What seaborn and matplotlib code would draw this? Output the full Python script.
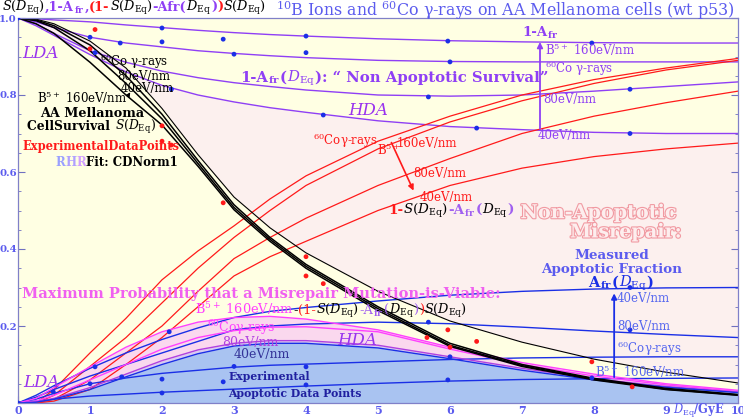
import matplotlib
matplotlib.use('Agg')
import matplotlib.pyplot as plt
import matplotlib.transforms as mtransforms
import matplotlib.patheffects as pe
from matplotlib.ticker import MultipleLocator
import seaborn as sns

sns.set_theme(style='ticks')
plt.rcParams['font.family'] = ['DejaVu Serif']
plt.rcParams['mathtext.fontset'] = 'dejavuserif'

# ---- data ----
xg = [0, 0.25, 0.5, 1, 1.5, 2, 2.5, 3, 3.5, 4, 5, 6, 7, 8, 9, 10]

# cell survival S(D_Eq)
s_co   = [1, 0.997, 0.985, 0.94, 0.87, 0.765, 0.645, 0.535, 0.455, 0.39, 0.29, 0.213, 0.158, 0.114, 0.08, 0.052]
s_80   = [1, 0.995, 0.98, 0.93, 0.85, 0.75, 0.63, 0.515, 0.43, 0.36, 0.25, 0.155, 0.1, 0.064, 0.038, 0.022]
s_40   = [1, 0.993, 0.975, 0.915, 0.83, 0.738, 0.622, 0.508, 0.425, 0.355, 0.245, 0.15, 0.097, 0.062, 0.036, 0.021]
s_b160 = [1, 0.985, 0.96, 0.885, 0.80, 0.722, 0.615, 0.502, 0.42, 0.35, 0.24, 0.147, 0.095, 0.06, 0.035, 0.02]

# 1 - Afr(D_Eq)
a_b160 = [1, 0.998, 0.995, 0.99, 0.982, 0.975, 0.968, 0.962, 0.957, 0.953, 0.946, 0.941, 0.938, 0.936, 0.935, 0.935]
a_co   = [1, 0.99, 0.975, 0.95, 0.935, 0.925, 0.915, 0.908, 0.902, 0.897, 0.89, 0.887, 0.886, 0.886, 0.886, 0.886]
a_80   = [1, 0.985, 0.96, 0.915, 0.885, 0.862, 0.845, 0.832, 0.822, 0.813, 0.80, 0.797, 0.80, 0.81, 0.822, 0.834]
a_40   = [1, 0.98, 0.955, 0.905, 0.86, 0.825, 0.80, 0.782, 0.767, 0.755, 0.733, 0.718, 0.71, 0.703, 0.70, 0.70]

# 1 - S - Afr
r_b160 = [0, 0, 0.035, 0.13, 0.22, 0.32, 0.395, 0.46, 0.53, 0.59, 0.68, 0.745, 0.80, 0.84, 0.87, 0.895]
r_co   = [0, 0, 0.02, 0.095, 0.17, 0.26, 0.35, 0.43, 0.50, 0.565, 0.66, 0.73, 0.785, 0.83, 0.865, 0.89]
r_80   = [0, 0, 0.01, 0.06, 0.13, 0.20, 0.29, 0.375, 0.43, 0.48, 0.565, 0.635, 0.70, 0.745, 0.78, 0.81]
r_40   = [0, 0, 0.005, 0.035, 0.10, 0.17, 0.25, 0.33, 0.38, 0.42, 0.50, 0.565, 0.61, 0.64, 0.66, 0.675]

# Afr(D_Eq)
f_40   = [0, 0.02, 0.045, 0.09, 0.13, 0.165, 0.195, 0.222, 0.238, 0.248, 0.265, 0.28, 0.29, 0.296, 0.299, 0.30]
f_80   = [0, 0.015, 0.035, 0.07, 0.10, 0.13, 0.16, 0.19, 0.20, 0.205, 0.21, 0.206, 0.197, 0.187, 0.178, 0.17]
f_co   = [0, 0.01, 0.025, 0.05, 0.065, 0.077, 0.085, 0.093, 0.098, 0.101, 0.107, 0.113, 0.117, 0.119, 0.12, 0.12]
f_b160 = [0, 0.005, 0.01, 0.018, 0.023, 0.028, 0.032, 0.036, 0.04, 0.044, 0.051, 0.057, 0.061, 0.063, 0.064, 0.065]

# (1 - S - Afr) S
m_b160 = [0, 0.012, 0.04, 0.094, 0.145, 0.185, 0.21, 0.222, 0.225, 0.218, 0.19, 0.145, 0.105, 0.075, 0.05, 0.033]
m_co   = [0, 0.005, 0.02, 0.06, 0.10, 0.14, 0.17, 0.188, 0.197, 0.198, 0.185, 0.14, 0.10, 0.07, 0.047, 0.03]
m_80   = [0, 0.003, 0.012, 0.04, 0.075, 0.11, 0.138, 0.155, 0.162, 0.162, 0.15, 0.12, 0.09, 0.063, 0.043, 0.028]
m_40   = [0, 0.002, 0.01, 0.035, 0.068, 0.10, 0.128, 0.148, 0.155, 0.155, 0.143, 0.115, 0.085, 0.06, 0.041, 0.027]

# experimental points
surv_x = [1.0, 1.07, 2.0, 2.0, 2.13, 2.85, 4.0, 4.0, 4.24, 5.68, 5.97, 6.0, 6.37, 7.97, 8.53]
surv_y = [0.92, 0.97, 0.72, 0.68, 0.67, 0.52, 0.38, 0.33, 0.31, 0.17, 0.19, 0.145, 0.16, 0.107, 0.042]
naps_x = [0, 1.0, 1.07, 1.42, 2.0, 2.0, 2.13, 2.85, 3.0, 4.0, 4.0, 4.24, 5.7, 5.97, 6.0, 6.37, 7.97, 8.5, 8.5]
naps_y = [1, 0.95, 0.91, 0.935, 0.974, 0.938, 0.815, 0.945, 0.906, 0.953, 0.91, 0.748, 0.795, 0.94, 0.886, 0.714, 0.935, 0.815, 0.70]
apop_x = [0, 0.49, 1.0, 1.07, 1.44, 2.0, 2.0, 2.1, 2.85, 3.0, 4.0, 4.0, 5.7, 5.97, 6.0, 7.97, 8.5, 8.5]
apop_y = [0, 0.029, 0.05, 0.094, 0.068, 0.062, 0.026, 0.185, 0.055, 0.095, 0.094, 0.047, 0.21, 0.06, 0.12, 0.065, 0.19, 0.30]

PURPLE = '#8f3ff5'
RED = '#ff1a1a'
BLUE = '#1a2fe6'
MAG = '#ff40ff'
TBLUE = '#5b5bee'

fig = plt.figure(figsize=(7.43, 4.20), dpi=100)
ax = fig.add_axes([18 / 743, 17 / 420, 720 / 743, 385 / 420])
ax.set_facecolor('#ffffe3')
fig.patch.set_facecolor('white')

# background regions
ax.fill_between(xg, s_co, a_40, color='#fcf0ee', lw=0, zorder=0.5)
ax.fill_between(xg, m_80, m_b160, color='#fad8ee', lw=0, zorder=0.6)
ax.fill_between(xg, m_40, m_80, color='#d8cbf2', lw=0, zorder=0.6)
ax.fill_between(xg, 0, m_40, color='#a9c3f1', lw=0, zorder=0.6)

kw = dict(ax=ax, legend=False, zorder=2)
for yy in (a_b160, a_co, a_80, a_40):
    sns.lineplot(x=xg, y=yy, color=PURPLE, linewidth=1.0, **kw)
for yy in (r_b160, r_co, r_80, r_40):
    sns.lineplot(x=xg, y=yy, color=RED, linewidth=0.9, **kw)
for yy in (f_40, f_80, f_co, f_b160):
    sns.lineplot(x=xg, y=yy, color=BLUE, linewidth=1.0, **kw)
sns.lineplot(x=xg, y=m_b160, color=MAG, linewidth=1.0, **kw)
sns.lineplot(x=xg, y=m_co, color=MAG, linewidth=1.0, **kw)
sns.lineplot(x=xg, y=m_80, color='#b040e0', linewidth=1.0, **kw)
sns.lineplot(x=xg, y=m_40, color=BLUE, linewidth=1.0, **kw)
sns.lineplot(x=xg, y=s_co, color='black', linewidth=0.8, **kw)
for yy in (s_80, s_40, s_b160):
    sns.lineplot(x=xg, y=yy, color='black', linewidth=1.1, **kw)

sns.scatterplot(x=surv_x, y=surv_y, color=RED, s=12, edgecolor='none', ax=ax, legend=False, zorder=3)
sns.scatterplot(x=naps_x, y=naps_y, color=BLUE, s=12, edgecolor='none', ax=ax, legend=False, zorder=3)
sns.scatterplot(x=apop_x, y=apop_y, color=BLUE, s=12, edgecolor='none', ax=ax, legend=False, zorder=3)

# axes styling
ax.set_xlim(0, 10)
ax.set_ylim(0, 1)
ax.xaxis.set_minor_locator(MultipleLocator(0.2))
ax.yaxis.set_minor_locator(MultipleLocator(0.05))
ax.set_xticks(range(11))
ax.set_xticklabels(['0', '1', '2', '3', '4', '5', '6', '7', '8', '9', '10'])
ax.set_yticks([0, 0.2, 0.4, 0.6, 0.8, 1.0])
ax.set_yticklabels(['', '0.2', '0.4', '0.6', '0.8', '1.0'])
ax.tick_params(axis='both', which='both', direction='in', colors='#7070c0',
               labelcolor=TBLUE, right=True, top=False)
ax.tick_params(axis='x', labelsize=8, pad=1.5)
ax.tick_params(axis='y', labelsize=7.3, pad=0.8)
ax.tick_params(axis='both', which='major', length=5, width=0.8)
ax.tick_params(axis='both', which='minor', length=2.5, width=0.6)
for lab in ax.get_xticklabels() + ax.get_yticklabels():
    lab.set_fontweight('bold')
for sp in ax.spines.values():
    sp.set_color('#8080c8')
    sp.set_linewidth(0.9)
ax.grid(False)

renderer = fig.canvas.get_renderer()


def multi_text(x, y, parts, size=9, weight='normal', transform=None, zorder=6):
    t = ax.transData if transform is None else transform
    for s, c in parts:
        txt = ax.text(x, y, s, color=c, transform=t, fontsize=size, fontweight=weight,
                      va='baseline', ha='left', zorder=zorder, clip_on=False)
        w = txt.get_window_extent(renderer=renderer).width
        t = mtransforms.offset_copy(txt.get_transform(), x=w, units='dots')


SEQ = r'$S(D_{\rm Eq})$'
DEQ = r'$D_{\rm Eq}$'
FR = r'$_{\mathbf{fr}}$'

# top-left formula and title
multi_text(2 / 743, 1 - 11 / 420, [
    (SEQ, 'black'), (',1-A', PURPLE), (FR, PURPLE), (',', PURPLE),
    ('(1-', RED), (SEQ, 'black'), ('-Afr(', PURPLE), (DEQ, 'black'), (')', PURPLE),
    (')', RED), (SEQ, 'black')], size=9.3, weight='bold', transform=fig.transFigure)
fig.text(276 / 743, 1 - 16 / 420, r'$^{10}$B Ions and $^{60}$Co γ-rays on AA Mellanoma cells (wt p53)',
         color=TBLUE, fontsize=11.4, va='baseline', ha='left')

# x axis label
ax.text(9.1, -0.022, DEQ + '/GyE', color=TBLUE, fontsize=8.3, fontweight='bold',
        va='center', ha='left', clip_on=False)

# LDA / HDA
for x, y, s in [(0.06, 0.896, 'LDA'), (4.58, 0.748, 'HDA'), (0.07, 0.042, 'LDA'), (4.43, 0.15, 'HDA')]:
    ax.text(x, y, s, color='#9933ee', fontsize=12, style='italic', va='baseline', zorder=6)

# survival labels (black)
ax.text(1.14, 0.875, r'$^{60}$Co γ-rays', fontsize=8.5, color='black', va='baseline', zorder=6)
ax.text(1.375, 0.839, '80eV/nm', fontsize=8.5, color='black', va='baseline', zorder=6)
ax.text(1.42, 0.808, '40eV/nm', fontsize=8.5, color='black', va='baseline', zorder=6)
ax.text(0.26, 0.779, r'B$^{5+}$ 160eV/nm', fontsize=8.5, color='black', va='baseline', zorder=6)
ax.annotate('', xy=(1.58, 0.813), xytext=(1.5, 0.79),
            arrowprops=dict(arrowstyle='-|>', color='black', lw=0.8, mutation_scale=6))
ax.text(1.03, 0.743, 'AA Mellanoma', fontsize=9.2, fontweight='bold', color='black',
        va='baseline', ha='center', zorder=6)
multi_text(0.13, 0.71, [('CellSurvival ', 'black'), (SEQ, 'black')], size=8.8, weight='bold')
ax.text(0.06, 0.657, 'ExperimentalDataPoints', fontsize=8.3, fontweight='bold', color=RED,
        va='baseline', zorder=6)
multi_text(0.52, 0.616, [('R', '#9aa0ff'), ('H', '#b0a0ff'), ('R', '#d0a0ff'),
                         ('Fit: CDNorm1', 'black')], size=8.5, weight='bold')

# 1 - Afr labels (purple)
multi_text(7.0, 0.953, [('1-A', PURPLE), (FR, PURPLE)], size=9.5, weight='bold')
ax.text(7.32, 0.904, r'B$^{5+}$ 160eV/nm', fontsize=8.5, color=PURPLE, va='baseline', zorder=6)
ax.text(7.32, 0.857, r'$^{60}$Co γ-rays', fontsize=8.5, color=PURPLE, va='baseline', zorder=6)
ax.text(7.29, 0.78, '80eV/nm', fontsize=8.5, color=PURPLE, va='baseline', zorder=6)
ax.text(7.22, 0.686, '40eV/nm', fontsize=8.5, color=PURPLE, va='baseline', zorder=6)
ax.annotate('', xy=(7.25, 0.945), xytext=(7.25, 0.705),
            arrowprops=dict(arrowstyle='-|>', color=PURPLE, lw=1.3, mutation_scale=8))
multi_text(3.08, 0.834, [('1-A', PURPLE), (FR, PURPLE), ('(', PURPLE),
                         (DEQ, PURPLE), ('): \u201c Non Apoptotic Survival\u201d', PURPLE)],
           size=10.7, weight='bold')

# 1 - S - Afr labels (red)
ax.text(4.1, 0.67, r'$^{60}$Coγ-rays', fontsize=8.5, color=RED, va='baseline', zorder=6)
ax.text(4.99, 0.644, r'B$^{5+}$', fontsize=8.5, color=RED, va='baseline', zorder=6)
ax.text(5.26, 0.665, '160eV/nm', fontsize=8.5, color=RED, va='baseline', zorder=6)
ax.text(5.49, 0.587, '80eV/nm', fontsize=8.5, color=RED, va='baseline', zorder=6)
ax.text(5.58, 0.525, '40eV/nm', fontsize=8.5, color=RED, va='baseline', zorder=6)
ax.annotate('', xy=(5.51, 0.545), xytext=(5.17, 0.683),
            arrowprops=dict(arrowstyle='-|>', color=RED, lw=1.2, mutation_scale=8))
multi_text(5.14, 0.49, [('1-', RED), (SEQ, 'black'), ('-A', '#a060f0'), (FR, '#a060f0'),
                        ('(', '#a060f0'), (DEQ, 'black'), (')', '#a060f0')], size=9.7, weight='bold')

# Non-apoptotic misrepair
outline = [pe.withStroke(linewidth=1.6, foreground='#f19aa2')]
for x, y, s in [(8.06, 0.48, 'Non-Apoptotic'), (8.44, 0.43, 'Misrepair:')]:
    ax.text(x, y, s, fontsize=13.8, fontweight='bold', color='#fdeeee', ha='center',
            va='baseline', path_effects=outline, zorder=6)

# Afr labels (blue)
ax.text(8.25, 0.374, 'Measured', fontsize=9.7, fontweight='bold', color=TBLUE, ha='center',
        va='baseline', zorder=6)
ax.text(8.25, 0.338, 'Apoptotic Fraction', fontsize=9.7, fontweight='bold', color=TBLUE,
        ha='center', va='baseline', zorder=6)
multi_text(7.92, 0.302, [('A', BLUE), (FR, BLUE), ('(', BLUE), (DEQ, BLUE),
                         (')', BLUE)], size=10.5, weight='bold')
ax.annotate('', xy=(8.28, 0.292), xytext=(8.28, 0.06),
            arrowprops=dict(arrowstyle='-|>', color=BLUE, lw=1.3, mutation_scale=8))
ax.text(8.32, 0.262, '40eV/nm', fontsize=8.5, color='#5566ee', va='baseline', zorder=6)
ax.text(8.32, 0.19, '80eV/nm', fontsize=8.5, color='#5566ee', va='baseline', zorder=6)
ax.text(8.32, 0.13, r'$^{60}$Coγ-rays', fontsize=8.5, color='#5566ee', va='baseline', zorder=6)
ax.text(8.01, 0.068, r'B$^{5+}$ 160eV/nm', fontsize=8.5, color='#5566ee', va='baseline', zorder=6)

# misrepair mutation labels (magenta)
ax.text(0.055, 0.272, 'Maximum Probability that a Misrepair Mutation-is-Viable:', fontsize=10.5,
        fontweight='bold', color='#f060f0', va='baseline', zorder=6)
multi_text(2.46, 0.232, [(r'B$^{5+}$ 160eV/nm', MAG), ('-', 'black'), ('(1-', RED), (SEQ, 'black'),
                         ('-A', '#a060f0'), (FR, '#a060f0'), ('(', '#a060f0'),
                         (DEQ, 'black'), (')', '#a060f0'), (')', RED), (SEQ, 'black')], size=9.3)
ax.text(2.62, 0.184, r'$^{60}$Coγ-rays', fontsize=9, color=MAG, va='baseline', zorder=6)
ax.text(2.83, 0.148, '80eV/nm', fontsize=9, color='#b040e0', va='baseline', zorder=6)
ax.text(2.99, 0.118, '40eV/nm', fontsize=9, color='#333399', va='baseline', zorder=6)
ax.text(2.92, 0.06, 'Experimental', fontsize=7.8, fontweight='bold', color='#2020a0',
        va='baseline', zorder=6)
ax.text(2.92, 0.016, 'Apoptotic Data Points', fontsize=7.8, fontweight='bold', color='#2020a0',
        va='baseline', zorder=6)

fig.savefig('out.png', dpi=100)
